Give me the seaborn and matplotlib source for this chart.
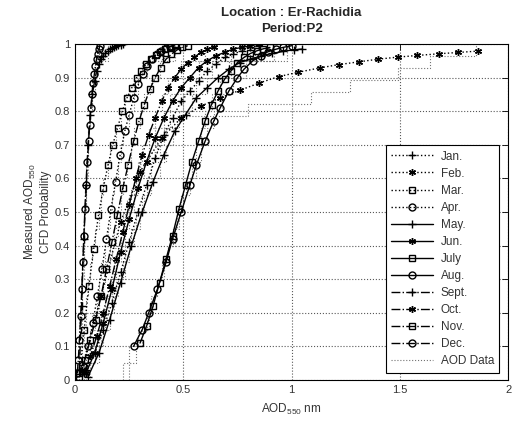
import matplotlib
matplotlib.use("Agg")
import matplotlib.pyplot as plt
import seaborn as sns
import numpy as np

# month names and styles
months = ["Jan.", "Feb.", "Mar.", "Apr.", "May.", "Jun.", "July", "Aug.",
          "Sept.", "Oct.", "Nov.", "Dec."]

# fitted CFD curves (markers): AOD value and CFD probability
jan_x = [0.05, 0.09, 0.13, 0.17, 0.21, 0.25, 0.29, 0.33, 0.37, 0.41, 0.45, 0.49, 0.53, 0.57, 0.61, 0.65, 0.69, 0.73, 0.77, 0.81, 0.85]
jan_y = [0.03, 0.08, 0.15, 0.23, 0.32, 0.41, 0.50, 0.58, 0.66, 0.73, 0.78, 0.83, 0.86, 0.89, 0.92, 0.94, 0.96, 0.97, 0.98, 0.99, 0.995]
feb_x = [0.03, 0.12, 0.21, 0.30, 0.40, 0.49, 0.58, 0.67, 0.76, 0.85, 0.94, 1.03, 1.13, 1.22, 1.31, 1.40, 1.49, 1.58, 1.68, 1.77, 1.86]
feb_y = [0.03, 0.25, 0.47, 0.62, 0.72, 0.78, 0.815, 0.84, 0.862, 0.884, 0.903, 0.916, 0.929, 0.939, 0.947, 0.955, 0.961, 0.966, 0.971, 0.975, 0.979]
mar_x = [0.02, 0.042, 0.064, 0.086, 0.108, 0.13, 0.152, 0.174, 0.196, 0.218, 0.24, 0.262, 0.284, 0.306, 0.328, 0.35, 0.372, 0.394, 0.416, 0.438, 0.46]
mar_y = [0.02, 0.15, 0.28, 0.39, 0.49, 0.57, 0.64, 0.70, 0.75, 0.80, 0.84, 0.87, 0.90, 0.92, 0.94, 0.955, 0.967, 0.977, 0.985, 0.992, 0.997]
apr_x = [0.04, 0.061, 0.082, 0.103, 0.124, 0.145, 0.166, 0.187, 0.208, 0.229, 0.25, 0.271, 0.292, 0.313, 0.334, 0.355, 0.376, 0.397, 0.418, 0.439, 0.46]
apr_y = [0.04, 0.10, 0.17, 0.25, 0.33, 0.42, 0.51, 0.59, 0.67, 0.74, 0.79, 0.84, 0.88, 0.91, 0.935, 0.955, 0.97, 0.98, 0.987, 0.993, 0.997]
may_x = [0.06, 0.11, 0.16, 0.21, 0.26, 0.31, 0.36, 0.41, 0.46, 0.51, 0.56, 0.61, 0.66, 0.71, 0.76, 0.81, 0.86, 0.91, 0.96, 1.01, 1.05]
may_y = [0.01, 0.08, 0.18, 0.29, 0.40, 0.50, 0.59, 0.67, 0.74, 0.79, 0.84, 0.87, 0.90, 0.925, 0.945, 0.955, 0.965, 0.972, 0.978, 0.983, 0.985]
jun_x = [0.05, 0.09, 0.13, 0.17, 0.21, 0.25, 0.29, 0.33, 0.37, 0.41, 0.45, 0.49, 0.53, 0.57, 0.61, 0.65, 0.69, 0.73, 0.77, 0.81, 0.85]
jun_y = [0.02, 0.08, 0.17, 0.27, 0.38, 0.48, 0.57, 0.65, 0.72, 0.78, 0.83, 0.87, 0.90, 0.93, 0.95, 0.965, 0.975, 0.985, 0.99, 0.995, 1.0]
jul_x = [0.30, 0.33, 0.36, 0.39, 0.42, 0.45, 0.48, 0.51, 0.54, 0.57, 0.60, 0.63, 0.66, 0.69, 0.72, 0.75, 0.78, 0.81, 0.84, 0.87, 0.90]
jul_y = [0.11, 0.16, 0.22, 0.29, 0.36, 0.43, 0.51, 0.58, 0.65, 0.71, 0.77, 0.82, 0.86, 0.895, 0.92, 0.945, 0.96, 0.972, 0.98, 0.986, 0.99]
aug_x = [0.27, 0.31, 0.34, 0.38, 0.42, 0.45, 0.49, 0.53, 0.56, 0.60, 0.64, 0.67, 0.71, 0.75, 0.78, 0.82, 0.86, 0.89, 0.93, 0.96, 1.00]
aug_y = [0.10, 0.15, 0.20, 0.27, 0.35, 0.42, 0.50, 0.58, 0.64, 0.71, 0.77, 0.81, 0.86, 0.90, 0.925, 0.95, 0.965, 0.977, 0.985, 0.99, 0.995]
sep_x = [0.02, 0.03, 0.04, 0.05, 0.06, 0.07, 0.08, 0.09, 0.10, 0.11, 0.12, 0.13, 0.14, 0.15, 0.16, 0.17, 0.18, 0.19, 0.20, 0.21, 0.22]
sep_y = [0.03, 0.22, 0.42, 0.58, 0.70, 0.79, 0.85, 0.89, 0.92, 0.94, 0.955, 0.965, 0.973, 0.98, 0.985, 0.989, 0.992, 0.994, 0.996, 0.998, 0.999]
oct_x = [0.04, 0.07, 0.10, 0.13, 0.16, 0.19, 0.22, 0.25, 0.28, 0.31, 0.34, 0.37, 0.40, 0.43, 0.46, 0.49, 0.52, 0.55, 0.58, 0.61, 0.64]
oct_y = [0.02, 0.07, 0.13, 0.20, 0.28, 0.36, 0.44, 0.52, 0.60, 0.67, 0.73, 0.78, 0.83, 0.87, 0.90, 0.925, 0.945, 0.96, 0.975, 0.985, 0.99]
nov_x = [0.02, 0.045, 0.07, 0.095, 0.12, 0.145, 0.17, 0.195, 0.22, 0.245, 0.27, 0.295, 0.32, 0.345, 0.37, 0.395, 0.42, 0.445, 0.47, 0.495, 0.52]
nov_y = [0.01, 0.06, 0.12, 0.18, 0.25, 0.33, 0.41, 0.49, 0.57, 0.64, 0.71, 0.77, 0.82, 0.865, 0.90, 0.93, 0.955, 0.97, 0.982, 0.99, 0.995]
dec_x = [0.010, 0.015, 0.020, 0.026, 0.031, 0.036, 0.041, 0.047, 0.052, 0.057, 0.062, 0.068, 0.073, 0.078, 0.083, 0.089, 0.094, 0.099, 0.104, 0.110, 0.115]
dec_y = [0.02, 0.06, 0.12, 0.19, 0.27, 0.35, 0.43, 0.51, 0.58, 0.65, 0.71, 0.76, 0.81, 0.85, 0.885, 0.91, 0.935, 0.955, 0.97, 0.985, 0.995]

# measured AOD samples (empirical CFD, "AOD Data")
jan_aod = [0.04, 0.09, 0.12, 0.14, 0.17, 0.19, 0.22, 0.23, 0.26, 0.28, 0.31, 0.33, 0.35, 0.39, 0.41, 0.44, 0.50, 0.56, 0.63, 0.78]
feb_aod = [0.02, 0.04, 0.05, 0.07, 0.08, 0.10, 0.11, 0.13, 0.14, 0.16, 0.17, 0.19, 0.20, 0.22, 0.24, 0.26, 0.28, 0.30, 0.34, 0.38, 0.42, 0.47, 0.80, 1.09, 1.27, 1.49, 1.64, 1.85]
mar_aod = [0.02, 0.03, 0.04, 0.05, 0.05, 0.06, 0.07, 0.08, 0.09, 0.11, 0.12, 0.13, 0.15, 0.16, 0.19, 0.21, 0.23, 0.27, 0.31, 0.41]
apr_aod = [0.03, 0.05, 0.07, 0.08, 0.10, 0.11, 0.12, 0.14, 0.15, 0.16, 0.17, 0.18, 0.20, 0.21, 0.22, 0.25, 0.27, 0.29, 0.33, 0.40]
may_aod = [0.07, 0.11, 0.13, 0.16, 0.18, 0.20, 0.23, 0.25, 0.27, 0.30, 0.32, 0.35, 0.39, 0.42, 0.45, 0.48, 0.54, 0.61, 0.71, 0.98]
jun_aod = [0.05, 0.09, 0.11, 0.13, 0.15, 0.17, 0.19, 0.21, 0.23, 0.25, 0.27, 0.29, 0.32, 0.34, 0.37, 0.41, 0.44, 0.50, 0.57, 0.72]
jul_aod = [0.25, 0.28, 0.31, 0.34, 0.36, 0.38, 0.40, 0.43, 0.45, 0.47, 0.49, 0.51, 0.54, 0.56, 0.58, 0.60, 0.63, 0.67, 0.72, 0.83]
aug_aod = [0.22, 0.25, 0.29, 0.33, 0.35, 0.38, 0.41, 0.43, 0.46, 0.48, 0.50, 0.53, 0.56, 0.58, 0.61, 0.64, 0.68, 0.73, 0.79, 0.92]
sep_aod = [0.02, 0.02, 0.03, 0.03, 0.03, 0.03, 0.04, 0.04, 0.04, 0.04, 0.05, 0.05, 0.05, 0.06, 0.06, 0.07, 0.08, 0.09, 0.10, 0.15]
oct_aod = [0.04, 0.07, 0.10, 0.12, 0.14, 0.16, 0.18, 0.20, 0.21, 0.23, 0.25, 0.27, 0.29, 0.31, 0.34, 0.37, 0.40, 0.43, 0.49, 0.60]
nov_aod = [0.03, 0.05, 0.07, 0.09, 0.11, 0.13, 0.14, 0.16, 0.18, 0.19, 0.21, 0.22, 0.24, 0.26, 0.27, 0.30, 0.32, 0.35, 0.39, 0.46]
dec_aod = [0.01, 0.02, 0.02, 0.02, 0.03, 0.03, 0.03, 0.04, 0.04, 0.04, 0.05, 0.05, 0.06, 0.06, 0.06, 0.07, 0.08, 0.08, 0.09, 0.11]

fit_x = [jan_x, feb_x, mar_x, apr_x, may_x, jun_x, jul_x, aug_x, sep_x, oct_x, nov_x, dec_x]
fit_y = [jan_y, feb_y, mar_y, apr_y, may_y, jun_y, jul_y, aug_y, sep_y, oct_y, nov_y, dec_y]
aod = [jan_aod, feb_aod, mar_aod, apr_aod, may_aod, jun_aod, jul_aod, aug_aod, sep_aod, oct_aod, nov_aod, dec_aod]

x_ticks = [0, 0.5, 1, 1.5, 2]
y_ticks = [0, 0.1, 0.2, 0.3, 0.4, 0.5, 0.6, 0.7, 0.8, 0.9, 1]

sns.set_style("white")
plt.rcParams["font.family"] = ["Liberation Sans", "DejaVu Sans"]
plt.rcParams["mathtext.fontset"] = "custom"
plt.rcParams["mathtext.rm"] = "Liberation Sans"
plt.rcParams["mathtext.it"] = "Liberation Sans:italic"

fig = plt.figure(figsize=(5.25, 4.21), dpi=100)
ax = fig.add_axes([0.143, 0.0974, 0.825, 0.798])

styles = [":"] * 4 + ["-"] * 4 + ["-."] * 4
asterisk = (6, 2, 0)
markers = ["+", asterisk, "s", "o"] * 3

# measured data (thin dotted steps)
for i, samples in enumerate(aod):
    sns.ecdfplot(x=samples, ax=ax, color="0.45", linestyle=":", linewidth=0.8,
                 label="AOD Data" if i == 0 else "_nolegend_", zorder=2)

# fitted curves
for i, name in enumerate(months):
    mk = markers[i]
    sns.lineplot(x=fit_x[i], y=fit_y[i], ax=ax, color="black", linestyle=styles[i],
                 linewidth=1.0, marker=mk, markersize=5 if mk != "+" else 6,
                 markerfacecolor="none", markeredgecolor="black", markeredgewidth=1.0,
                 estimator=None, sort=False, label=name, zorder=3)

ax.set_xlim(0, 2)
ax.set_ylim(0, 1)
ax.set_xticks(x_ticks)
ax.set_xticklabels([f"{v:g}" for v in x_ticks])
ax.set_yticks(y_ticks)
ax.set_yticklabels([f"{v:g}" for v in y_ticks])
ax.tick_params(direction="in", length=4, width=0.6, top=True, right=True,
               labelsize=8, labelcolor="#333333", color="black")
ax.grid(True, linestyle=":", color="0.35", linewidth=0.8)
for s in ax.spines.values():
    s.set_color("black")
    s.set_linewidth(0.8)

ax.set_xlabel("AOD$_{550}$ nm", fontsize=8.5, color="#333333", labelpad=5)
ax.set_ylabel("Measured AOD$_{550}$\nCFD Probability", fontsize=8.5, color="#333333", labelpad=2)
ax.set_title("Location : Er-Rachidia\nPeriod:P2", fontsize=9.5, fontweight="bold",
             linespacing=1.35, pad=9)

handles, labels = ax.get_legend_handles_labels()
order = [labels.index(m) for m in months] + [labels.index("AOD Data")]
leg = ax.legend([handles[k] for k in order], [labels[k] for k in order],
                loc="lower right", bbox_to_anchor=(0.993, 0.004), fontsize=8.5,
                handlelength=3.6, labelspacing=0.43, borderpad=0.45,
                handletextpad=0.6, fancybox=False, framealpha=1, edgecolor="black")
leg.get_frame().set_linewidth(0.8)
for t in leg.get_texts():
    t.set_color("#333333")

fig.savefig("out.png", dpi=100, facecolor="white")
